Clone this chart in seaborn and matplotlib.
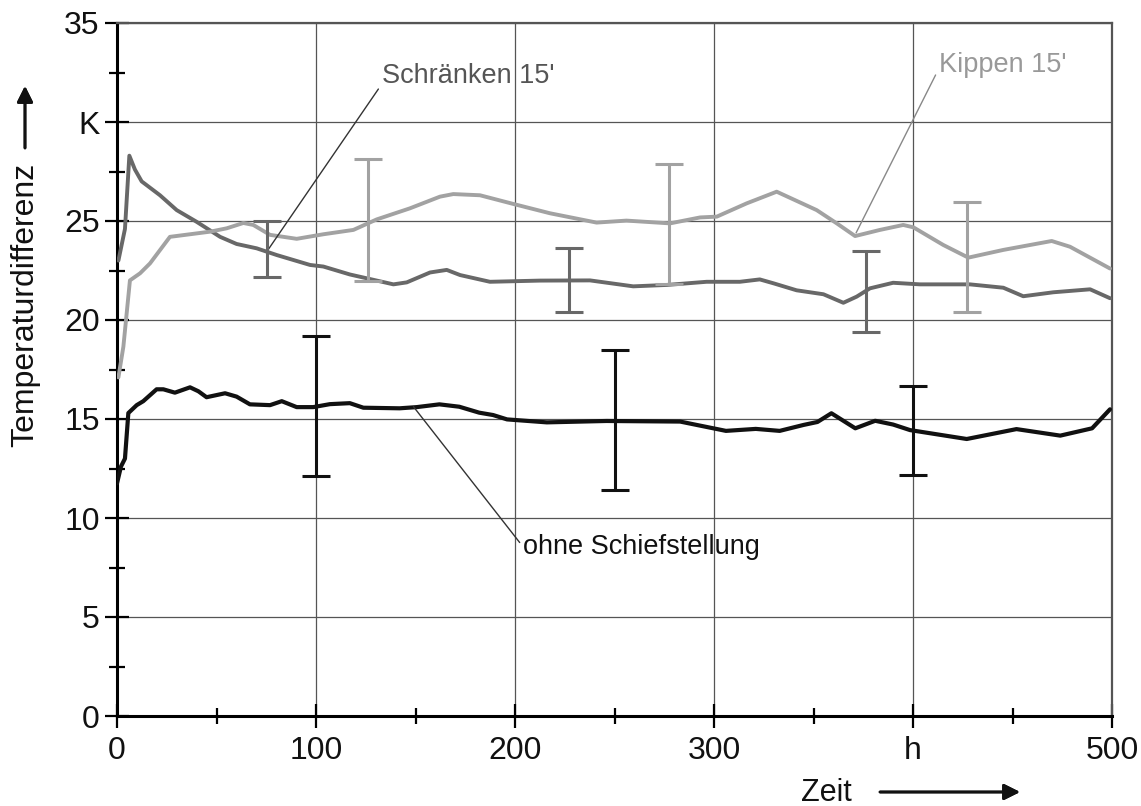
import numpy as np
import pandas as pd
import matplotlib
matplotlib.use("Agg")
import matplotlib.pyplot as plt
from matplotlib.ticker import MultipleLocator
import seaborn as sns

# ---------------------------------------------------------------
# data
# ---------------------------------------------------------------
ohne_x = [0, 2, 4, 5.7, 9.9, 13.2, 19.9, 23.3, 29.1, 36.7, 40.9, 45, 54.3, 60.1,
          66.8, 76.9, 82.8, 90.3, 98.6, 107, 117, 123.8, 142, 150.6, 162, 172,
          182, 189, 196, 216, 246, 283, 306, 321, 333, 345, 352, 359, 371, 381,
          390, 398.5, 427, 452, 474, 490, 499]
ohne_y = [11.75, 12.6, 13.0, 15.3, 15.7, 15.9, 16.5, 16.5, 16.33, 16.6, 16.4, 16.1,
          16.3, 16.13, 15.74, 15.7, 15.9, 15.6, 15.6, 15.75, 15.8, 15.57, 15.54,
          15.6, 15.74, 15.62, 15.32, 15.2, 14.98, 14.83, 14.9, 14.87, 14.4, 14.5,
          14.4, 14.7, 14.85, 15.29, 14.53, 14.91, 14.72, 14.44, 13.99, 14.49,
          14.16, 14.53, 15.49]

schr_x = [0.7, 4, 6.2, 9, 12.4, 21.6, 30, 40, 51.8, 60.1, 70.2, 80.3, 97, 103.7,
          117, 138.9, 145.6, 157.3, 165.7, 172.4, 187.4, 212.6, 237.7, 259.4,
          276.2, 296.3, 313, 323, 330, 341.5, 355, 365, 371.7, 378.4, 390, 403.5,
          428.6, 445.4, 455.4, 470.5, 489, 499]
schr_y = [23.0, 24.6, 28.3, 27.6, 27.0, 26.3, 25.55, 24.96, 24.2, 23.84, 23.62,
          23.28, 22.78, 22.7, 22.3, 21.8, 21.9, 22.4, 22.53, 22.27, 21.93, 21.99,
          22.0, 21.7, 21.77, 21.93, 21.93, 22.05, 21.85, 21.5, 21.3, 20.87, 21.18,
          21.6, 21.88, 21.8, 21.8, 21.63, 21.2, 21.4, 21.55, 21.1]

kipp_x = [0.7, 3.2, 6.5, 11.6, 16.6, 26.6, 46.7, 55.1, 63.5, 68.5, 76.9, 90.3,
          103.7, 118.8, 130.5, 147.2, 162.3, 169, 182.4, 199.2, 217.6, 241, 256,
          277.9, 293, 301.4, 316.4, 331.5, 351.6, 361.7, 370.9, 383.4, 395.1,
          400.2, 415.2, 427.8, 445.4, 469.7, 478.9, 499]
kipp_y = [17.1, 18.65, 22.0, 22.36, 22.86, 24.2, 24.46, 24.63, 24.9, 24.8, 24.3,
          24.1, 24.33, 24.55, 25.08, 25.64, 26.23, 26.36, 26.3, 25.86, 25.39,
          24.92, 25.02, 24.88, 25.18, 25.22, 25.89, 26.48, 25.55, 24.88, 24.24,
          24.55, 24.8, 24.68, 23.79, 23.15, 23.54, 23.99, 23.7, 22.6]

# scatter bands (min / max)
ohne_bar_x = [100, 250, 400]
ohne_bar_lo = [12.1, 11.4, 12.15]
ohne_bar_hi = [19.2, 18.5, 16.65]
schr_bar_x = [75.2, 227.3, 376.4]
schr_bar_lo = [22.15, 20.4, 19.4]
schr_bar_hi = [25.0, 23.65, 23.5]
kipp_bar_x = [126, 277.4, 427]
kipp_bar_lo = [21.95, 21.8, 20.4]
kipp_bar_hi = [28.15, 27.9, 25.95]

x_ticks = [0, 100, 200, 300, 400, 500]
x_ticklabels = ["0", "100", "200", "300", "h", "500"]
y_ticks = [0, 5, 10, 15, 20, 25, 30, 35]
y_ticklabels = ["0", "5", "10", "15", "20", "25", "K", "35"]

BLACK = "#111111"
DARK = "#686868"
LIGHT = "#a2a2a2"

sns.set_theme(style="white")
plt.rcParams["font.family"] = ["Liberation Sans", "DejaVu Sans"]

fig = plt.figure(figsize=(11.41, 8.06), dpi=100)
ax = fig.add_axes([117 / 1141, 1 - 716 / 806, (1112 - 117) / 1141, (716 - 23) / 806])

series = [
    (ohne_x, ohne_y, BLACK, 3.0, ohne_bar_x, ohne_bar_lo, ohne_bar_hi),
    (schr_x, schr_y, DARK, 2.8, schr_bar_x, schr_bar_lo, schr_bar_hi),
    (kipp_x, kipp_y, LIGHT, 2.8, kipp_bar_x, kipp_bar_lo, kipp_bar_hi),
]
for xs, ys, col, lw, bx, blo, bhi in series:
    df = pd.DataFrame({"t": xs, "dT": ys})
    sns.lineplot(data=df, x="t", y="dT", color=col, lw=lw, ax=ax, zorder=3)
    blo = np.array(blo)
    bhi = np.array(bhi)
    mid = (blo + bhi) / 2
    ax.errorbar(bx, mid, yerr=(bhi - blo) / 2, fmt="none", ecolor=col,
                elinewidth=2.2, capsize=10, capthick=2.2, zorder=4)

ax.set_xlim(0, 500)
ax.set_ylim(0, 35)
ax.set_xticks(x_ticks)
ax.set_xticklabels(x_ticklabels)
ax.set_yticks(y_ticks)
ax.set_yticklabels(y_ticklabels)
ax.xaxis.set_minor_locator(MultipleLocator(50))
ax.yaxis.set_minor_locator(MultipleLocator(2.5))
ax.tick_params(axis="both", which="both", bottom=True, left=True, top=False, right=False)
ax.tick_params(axis="both", which="major", direction="inout", length=17, width=1.6,
               color="black", labelsize=23, labelcolor="#111111")
ax.tick_params(axis="both", which="minor", direction="inout", length=11, width=1.6,
               color="black")
ax.tick_params(axis="x", which="major", pad=6)
ax.tick_params(axis="y", which="major", pad=4)
ax.set_xlabel("")
ax.set_ylabel("")

ax.grid(True, which="major", color="#555555", lw=0.9)
ax.set_axisbelow(True)
for side in ["left", "bottom"]:
    ax.spines[side].set_color("black")
    ax.spines[side].set_linewidth(2.2)
for side in ["top", "right"]:
    ax.spines[side].set_color("#555555")
    ax.spines[side].set_linewidth(1.6)

# labels with leader lines
ax.annotate("Schränken 15'", xy=(76, 23.56), xytext=(133, 32.3),
            fontsize=19.5, color="#555555", va="center", ha="left",
            arrowprops=dict(arrowstyle="-", color="#333333", lw=1.0,
                            shrinkA=0, shrinkB=0, relpos=(0, 0.2)))
ax.annotate("Kippen 15'", xy=(371.4, 24.4), xytext=(413, 32.9),
            fontsize=19.5, color="#999999", va="center", ha="left",
            arrowprops=dict(arrowstyle="-", color="#888888", lw=1.0,
                            shrinkA=0, shrinkB=0, relpos=(0, 0.35)))
ax.annotate("ohne Schiefstellung", xy=(149, 15.62), xytext=(204, 8.55),
            fontsize=19.5, color=BLACK, va="center", ha="left",
            arrowprops=dict(arrowstyle="-", color="#333333", lw=1.0,
                            shrinkA=0, shrinkB=0, relpos=(0, 0.5)))

# axis titles with arrows
fig.text(25 / 1141, 1 - 305 / 806, "Temperaturdifferenz", rotation=90,
         fontsize=23, ha="center", va="center", color=BLACK)
fig.add_artist(plt.annotate("", xy=(25 / 1141, 1 - 86 / 806),
                            xytext=(25 / 1141, 1 - 148 / 806),
                            xycoords="figure fraction", textcoords="figure fraction",
                            arrowprops=dict(arrowstyle="-|>", color=BLACK, lw=2,
                                            mutation_scale=24, shrinkA=0, shrinkB=0)))
fig.text(826 / 1141, 1 - 793 / 806, "Zeit", fontsize=22, ha="center", va="center",
         color=BLACK)
fig.add_artist(plt.annotate("", xy=(1020 / 1141, 1 - 792 / 806),
                            xytext=(880 / 1141, 1 - 792 / 806),
                            xycoords="figure fraction", textcoords="figure fraction",
                            arrowprops=dict(arrowstyle="-|>", color=BLACK, lw=2,
                                            mutation_scale=24, shrinkA=0, shrinkB=0)))

plt.savefig("out.png", dpi=100)
plt.close()
